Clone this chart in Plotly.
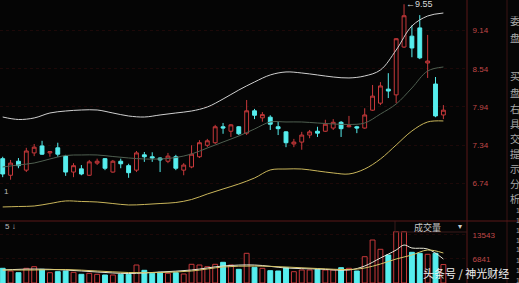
import plotly.graph_objects as go

W, H = 519, 283

# ---------------- data ----------------
candle_idx = list(range(1, 58))
open_p = [7.13, 6.87, 7.09, 6.95, 7.22, 7.33, 7.22, 7.30, 7.17, 6.92,
          6.97, 6.87, 7.06, 7.13, 6.92, 7.09, 7.02, 6.95, 7.19, 7.16,
          7.14, 7.09, 7.16, 6.95, 7.00, 7.16, 7.34, 7.38, 7.63, 7.56,
          7.63, 7.53, 7.88, 7.77, 7.78, 7.63, 7.55, 7.36, 7.39, 7.50,
          7.56, 7.56, 7.61, 7.70, 7.63, 7.63, 7.61, 7.89, 8.00, 8.22,
          8.13, 8.88, 9.05, 9.18, 8.63, 8.30, 7.815]
high_p = [7.16, 7.11, 7.14, 7.30, 7.36, 7.41, 7.25, 7.38, 7.19, 7.06,
          7.03, 7.11, 7.13, 7.14, 7.11, 7.13, 7.05, 7.25, 7.235, 7.23,
          7.15, 7.22, 7.19, 7.06, 7.34, 7.42, 7.44, 7.66, 7.69, 7.67,
          7.64, 8.05, 7.91, 7.86, 7.81, 7.71, 7.56, 7.44, 7.55, 7.58,
          7.63, 7.74, 7.75, 7.72, 7.80, 7.645, 7.92, 8.285, 8.33, 8.47,
          9.02, 9.55, 9.22, 9.38, 9.07, 8.41, 7.97]
low_p = [6.84, 6.80, 6.98, 6.92, 7.17, 7.19, 7.16, 7.16, 6.86, 6.84,
         6.87, 6.86, 7.03, 6.95, 6.91, 6.98, 6.83, 6.92, 7.08, 7.08,
         6.92, 7.06, 6.95, 6.87, 6.98, 7.14, 7.31, 7.36, 7.52, 7.47,
         7.50, 7.50, 7.75, 7.71, 7.58, 7.50, 7.31, 7.31, 7.27, 7.45,
         7.47, 7.55, 7.58, 7.47, 7.62, 7.53, 7.60, 7.88, 7.97, 8.08,
         8.00, 8.865, 8.72, 8.69, 8.395, 7.78, 7.75]
close_p = [6.89, 7.06, 7.02, 7.25, 7.31, 7.20, 7.24, 7.20, 6.92, 7.02,
           6.89, 7.08, 7.09, 6.98, 7.09, 7.05, 6.91, 7.22, 7.16, 7.14,
           7.11, 7.17, 6.98, 7.03, 7.20, 7.38, 7.41, 7.63, 7.61, 7.66,
           7.52, 7.88, 7.81, 7.82, 7.67, 7.60, 7.38, 7.39, 7.50, 7.55,
           7.53, 7.67, 7.70, 7.60, 7.645, 7.61, 7.815, 8.11, 8.27, 8.19,
           9.01, 9.37, 8.865, 8.71, 8.66, 7.80, 7.89]
volume = [4145, 3384, 2905, 4145, 4597, 3863, 2905, 3187, 3384, 3017,
          2453, 2735, 2453, 2256, 2256, 2453, 2453, 5076, 3581, 2735,
          3017, 2735, 2905, 2538, 5273, 5076, 4597, 5273, 5837, 5076,
          3863, 8375, 4427, 4145, 3469, 3384, 4315, 3187, 3666, 3666,
          3863, 3666, 3666, 4315, 4145, 3384, 7417, 12126, 9503, 7896,
          14467, 14467, 8657, 8375, 8093, 8375, 5200]

band_idx = list(range(1, 58, 2))
boll_upper = [7.783, 7.744, 7.768, 7.846, 7.877, 7.893, 7.893, 7.846, 7.799, 7.783,
              7.815, 7.846, 7.877, 7.940, 8.065, 8.206, 8.332, 8.442, 8.489, 8.473,
              8.442, 8.410, 8.395, 8.426, 8.520, 8.833, 9.210, 9.366, 9.413]
boll_mid = [7.000, 7.031, 7.062, 7.125, 7.180, 7.188, 7.188, 7.164, 7.141, 7.125,
            7.125, 7.148, 7.203, 7.297, 7.391, 7.485, 7.595, 7.705, 7.705, 7.705,
            7.689, 7.674, 7.666, 7.689, 7.830, 7.987, 8.238, 8.504, 8.567]
boll_lower = [6.373, 6.380, 6.388, 6.427, 6.467, 6.459, 6.451, 6.427, 6.404, 6.412,
              6.427, 6.443, 6.490, 6.576, 6.655, 6.733, 6.827, 6.953, 6.968, 6.968,
              6.937, 6.906, 6.890, 6.968, 7.125, 7.344, 7.564, 7.705, 7.721]

vma5_idx = [1, 5, 9, 13, 17, 21, 25, 29, 33, 37, 41, 45, 47, 49, 51, 52, 53, 55, 57]
vol_ma5 = [3666, 3948, 3666, 3102, 2679, 3102, 3666, 4794, 5076, 4230,
           3948, 3666, 4794, 7050, 9306, 10716, 9870, 9588, 6768]
vma10_idx = [1, 5, 9, 13, 17, 21, 25, 29, 33, 37, 41, 45, 47, 49, 51, 53, 55, 57]
vol_ma10 = [3666, 3666, 3807, 3384, 2961, 2961, 3384, 4512, 4794, 4512,
            4089, 3807, 4230, 5358, 6768, 7896, 9306, 8460]

price_ticks = [6.74, 7.34, 7.94, 8.54, 9.14]
vol_ticks = [6841, 13543]
high_label = "←9.55"

# ---------------- style ----------------
BG = "#050505"
RED = "#c8393b"
CYAN = "#56eeee"
AX = "#5a1818"
LBL = "#c04848"

fig = go.Figure()

fig.add_trace(go.Scatter(x=band_idx, y=boll_upper, mode="lines", line=dict(color="#cfcfcf", width=1, shape="spline"),
                         xaxis="x", yaxis="y", hoverinfo="skip"))
fig.add_trace(go.Scatter(x=band_idx, y=boll_mid, mode="lines", line=dict(color="#4f5f50", width=1, shape="spline"),
                         xaxis="x", yaxis="y", hoverinfo="skip"))
fig.add_trace(go.Scatter(x=band_idx, y=boll_lower, mode="lines", line=dict(color="#c9b55a", width=1, shape="spline"),
                         xaxis="x", yaxis="y", hoverinfo="skip"))

fig.add_trace(go.Candlestick(
    x=candle_idx, open=open_p, high=high_p, low=low_p, close=close_p,
    increasing=dict(line=dict(color=RED, width=1), fillcolor=BG),
    decreasing=dict(line=dict(color=CYAN, width=1), fillcolor=CYAN),
    whiskerwidth=0, xaxis="x", yaxis="y", hoverinfo="skip"))

up = [c >= o for o, c in zip(open_p, close_p)]
fig.add_trace(go.Bar(
    x=candle_idx, y=volume, width=0.62,
    marker=dict(color=[BG if u else CYAN for u in up],
                line=dict(color=[RED if u else CYAN for u in up], width=1)),
    xaxis="x2", yaxis="y2", hoverinfo="skip"))

fig.add_trace(go.Scatter(x=vma5_idx, y=vol_ma5, mode="lines", line=dict(color="#e6e6d6", width=1, shape="spline"),
                         xaxis="x2", yaxis="y2", hoverinfo="skip"))
fig.add_trace(go.Scatter(x=vma10_idx, y=vol_ma10, mode="lines", line=dict(color="#d6c46a", width=1, shape="spline"),
                         xaxis="x2", yaxis="y2", hoverinfo="skip"))

XR = [0.657, 60.0]
xd = [0, 467 / W]
top_dom = [1 - 215 / H, 1]
vol_dom = [0, 62 / H]

fig.update_layout(
    width=W, height=H, margin=dict(l=0, r=0, t=0, b=0),
    paper_bgcolor=BG, plot_bgcolor=BG, showlegend=False,
    font=dict(family="Liberation Sans, Arial", color=LBL),
    xaxis=dict(domain=xd, range=XR, visible=False, rangeslider=dict(visible=False), fixedrange=True),
    xaxis2=dict(domain=xd, range=XR, visible=False, anchor="y2", fixedrange=True),
    yaxis=dict(domain=top_dom, range=[6.247, 9.617], side="right", anchor="free", position=467 / W,
               tickvals=price_ticks, ticktext=["%.2f" % v for v in price_ticks],
               tickfont=dict(size=8, color=LBL), ticks="outside", ticklen=3, tickcolor="rgba(0,0,0,0)",
               showgrid=True, gridcolor="#1d0909", griddash="dot", gridwidth=1,
               zeroline=False, showline=False),
    yaxis2=dict(domain=vol_dom, range=[0, 62 * 282], side="right", anchor="free", position=467 / W,
                tickvals=vol_ticks, ticktext=[str(v) for v in vol_ticks],
                tickfont=dict(size=8, color=LBL), ticks="outside", ticklen=3, tickcolor="rgba(0,0,0,0)",
                showgrid=True, gridcolor="#1d0909", griddash="dot", zeroline=False, showline=False),
)

shapes = [
    dict(type="line", xref="paper", yref="paper", x0=467 / W, x1=467 / W, y0=0, y1=1, line=dict(color=AX, width=1)),
    dict(type="line", xref="paper", yref="paper", x0=507 / W, x1=507 / W, y0=0, y1=1, line=dict(color="#3a1515", width=1)),
    dict(type="line", xref="paper", yref="paper", x0=0, x1=1, y0=1 - 221 / H, y1=1 - 221 / H, line=dict(color=AX, width=1)),
    dict(type="line", xref="paper", yref="paper", x0=395 / W, x1=395 / W, y0=1 - 221 / H, y1=1 - 232 / H, line=dict(color="#3a1a1a", width=1)),
    dict(type="line", xref="paper", yref="paper", x0=395 / W, x1=467 / W, y0=1 - 232 / H, y1=1 - 232 / H, line=dict(color="#3a1a1a", width=1)),
]
fig.update_layout(shapes=shapes)


def px_ann(text, x, y, size=9, color="#c8c8c8", xanchor="center", yanchor="middle", family=None):
    d = dict(text=text, xref="paper", yref="paper", x=x / W, y=1 - y / H, showarrow=False,
             xanchor=xanchor, yanchor=yanchor, font=dict(size=size, color=color))
    if family:
        d["font"]["family"] = family
    return d


CJK = "Noto Sans CJK SC"
anns = [
    dict(text=high_label, x=52, y=9.55, xref="x", yref="y", showarrow=False, xanchor="left", yanchor="middle",
         font=dict(size=9, color="#d8d8d8")),
    px_ann("1", 6, 191, size=8, color="#bbbbbb"),
    px_ann("5 ↓", 3, 226, size=8, color="#bbbbbb", xanchor="left"),
    px_ann("成交量", 427, 227, size=9, color="#c8c8c8", family=CJK),
    px_ann("▾", 460, 226, size=8, color="#cccccc"),
    px_ann("头条号 / 神光财经", 466, 273, size=11, color="#f0f0f0", family=CJK),
]
side_chars = [("委", 20), ("盘", 37), ("买", 75), ("盘", 92), ("右", 108), ("具", 123),
              ("交", 138), ("提", 153), ("示", 168), ("分", 183), ("析", 198)]
for ch, yy in side_chars:
    anns.append(px_ann(ch, 508, yy, size=10, color="#a8a8a8", xanchor="left", family=CJK))
for yy in [210, 220, 230, 240, 250, 260, 270, 280]:
    anns.append(px_ann("1", 514, yy, size=7, color="#a8a8a8", xanchor="left"))
fig.update_layout(annotations=anns)

fig.write_html("out.html", config=dict(displayModeBar=False))
